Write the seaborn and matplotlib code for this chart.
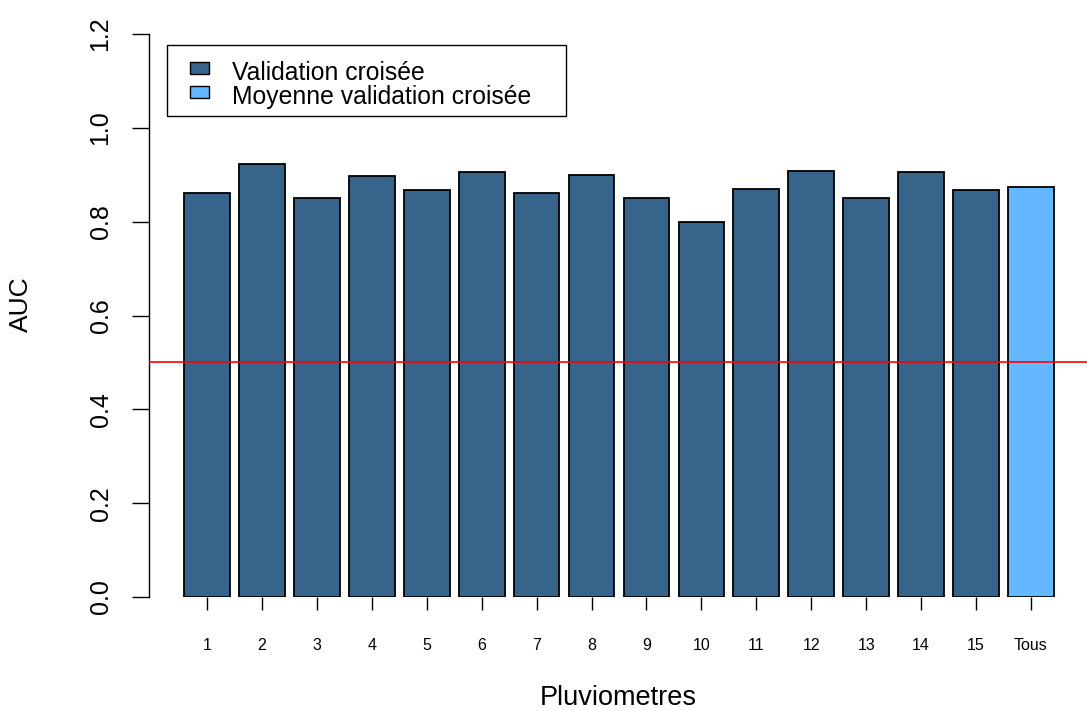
import matplotlib
matplotlib.use("Agg")
import matplotlib.pyplot as plt
from matplotlib.patches import Rectangle
import seaborn as sns
import pandas as pd

# AUC per rain gauge (cross-validation) and the overall mean
categories = ["1", "2", "3", "4", "5", "6", "7", "8", "9", "10",
              "11", "12", "13", "14", "15", "Tous"]
auc_values = [0.861, 0.922, 0.850, 0.897, 0.867, 0.906, 0.861, 0.900,
              0.850, 0.799, 0.870, 0.909, 0.850, 0.906, 0.867, 0.874]
groups = ["Validation croisée"] * 15 + ["Moyenne validation croisée"]
legend_labels = ["Validation croisée", "Moyenne validation croisée"]
y_ticks = [0.0, 0.2, 0.4, 0.6, 0.8, 1.0, 1.2]
threshold = 0.5

dark_blue = "#36648B"
light_blue = "#63B8FF"

sns.set_theme(style="white")
plt.rcParams["font.family"] = ["Liberation Sans", "DejaVu Sans"]
plt.rcParams.update({"text.color": "black", "axes.labelcolor": "black",
                     "xtick.color": "black", "ytick.color": "black"})

df = pd.DataFrame({"station": categories, "auc": auc_values, "groupe": groups})

W, H = 1087, 711
fig = plt.figure(figsize=(W / 100, H / 100), dpi=100)
left_px, right_px = 149, 1087
bottom_px, top_px = 597, 11.5
ax = fig.add_axes([left_px / W, (H - bottom_px) / H,
                   (right_px - left_px) / W, (bottom_px - top_px) / H])

sns.barplot(data=df, x="station", y="auc", hue="groupe",
            palette={"Validation croisée": dark_blue,
                     "Moyenne validation croisée": light_blue},
            width=0.833, dodge=False, edgecolor="black", linewidth=1.3,
            saturation=1, legend=False, ax=ax)

ax.axhline(threshold, color="#FF0000", linewidth=1.2, zorder=5)

ax.set_xlim(-1.056, 16.02)
ax.set_ylim(0, 1.248)

for side in ["top", "right", "bottom"]:
    ax.spines[side].set_visible(False)
ax.spines["left"].set_bounds(0, 1.2)
ax.spines["left"].set_color("black")
ax.spines["left"].set_linewidth(1.0)

ax.set_yticks(y_ticks)
ax.set_yticklabels([f"{t:.1f}" for t in y_ticks], rotation=90, va="center",
                   fontsize=18)
ax.tick_params(axis="y", direction="out", length=12.2, width=1.0,
               color="black", pad=14, left=True)
ax.set_xticks(range(len(categories)))
ax.set_xticklabels(categories, fontsize=11.5)
ax.tick_params(axis="x", direction="out", length=9.4, width=1.0,
               color="black", pad=20, bottom=True)

ax.set_xlabel("Pluviometres", fontsize=19.5, labelpad=23)
ax.set_ylabel("AUC", fontsize=19, labelpad=40)
ax.grid(False)


# Legend box drawn in figure pixel coordinates (origin top-left)
def fx(px):
    return px / W


def fy(py):
    return 1 - py / H


fig.patches.append(Rectangle((fx(167), fy(116)), fx(566) - fx(167),
                             fy(45) - fy(116), transform=fig.transFigure,
                             facecolor="white", edgecolor="black",
                             linewidth=1.0, zorder=10))
for i, (label, colour) in enumerate(zip(legend_labels, [dark_blue, light_blue])):
    top = 62 + 24 * i
    fig.patches.append(Rectangle((fx(190), fy(top + 12)), fx(209) - fx(190),
                                 fy(top) - fy(top + 12),
                                 transform=fig.transFigure, facecolor=colour,
                                 edgecolor="black", linewidth=1.0, zorder=11))
    fig.text(fx(232), fy(80 + 24 * i), label, fontsize=17.8,
             ha="left", va="baseline", zorder=12)

fig.savefig("out.png", dpi=100)
